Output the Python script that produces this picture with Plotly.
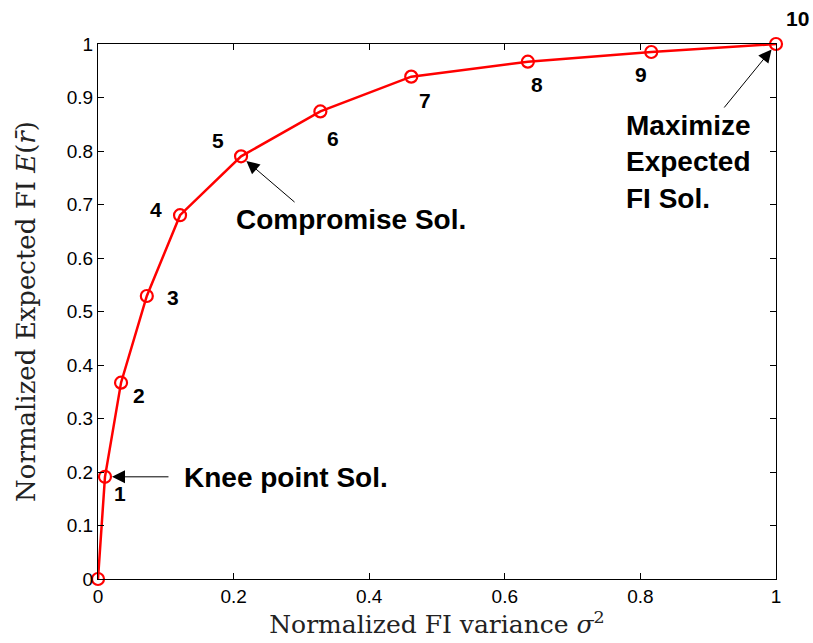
import plotly.graph_objects as go

# Data
sigma2 = [0.0, 0.0103, 0.034, 0.072, 0.121, 0.211, 0.328, 0.462, 0.634, 0.816, 1.0]
exp_fi = [0.0, 0.191, 0.367, 0.529, 0.680, 0.790, 0.874, 0.939, 0.967, 0.985, 1.0]
point_labels = ["", "1", "2", "3", "4", "5", "6", "7", "8", "9", "10"]
x_ticks = [0, 0.2, 0.4, 0.6, 0.8, 1]
y_ticks = [0, 0.1, 0.2, 0.3, 0.4, 0.5, 0.6, 0.7, 0.8, 0.9, 1]

# label pixel offsets (style)
label_offsets = [(0, 0), (15, -17), (18, -13), (26, -2), (-24, 6), (-23, 16),
                 (13, -27), (14, -24), (9, -23), (-10, -22), (21, 26)]

fig = go.Figure()
fig.add_trace(go.Scatter(
    x=sigma2, y=exp_fi, mode="lines+markers",
    line=dict(color="#ff0000", width=2.5),
    marker=dict(symbol="circle-open", size=12, color="#ff0000", line=dict(width=2.2)),
    cliponaxis=False, showlegend=False,
))

lab_font = dict(family="Liberation Sans, Arial, sans-serif", size=21, color="black")
annotations = []
for i, lab in enumerate(point_labels):
    if not lab:
        continue
    dx, dy = label_offsets[i]
    annotations.append(dict(x=sigma2[i], y=exp_fi[i], text="<b>%s</b>" % lab, showarrow=False,
                            xshift=dx, yshift=dy, font=lab_font))

big_font = dict(family="Liberation Sans, Arial, sans-serif", size=28, color="black")
arrow_style = dict(showarrow=True, arrowhead=2, arrowsize=2.6, arrowwidth=1,
                   arrowcolor="black", standoff=7, text="")
# Knee point
annotations.append(dict(x=sigma2[1], y=exp_fi[1], ax=65, ay=0, **arrow_style))
annotations.append(dict(x=0.124, y=0.190, text="<b>Knee point Sol.</b>", showarrow=False,
                        xanchor="left", font=big_font))
# Compromise
annotations.append(dict(x=sigma2[5], y=exp_fi[5], ax=55, ay=47, **arrow_style))
annotations.append(dict(x=0.373, y=0.672, text="<b>Compromise Sol.</b>", showarrow=False,
                        font=big_font))
# Maximize
annotations.append(dict(x=sigma2[10], y=exp_fi[10], ax=-53, ay=65, **arrow_style))
annotations.append(dict(x=0.776, y=0.780, text="<b>Maximize<br>Expected<br>FI Sol.</b>",
                        showarrow=False, xanchor="left", align="left", font=big_font))

axis_common = dict(
    range=[0, 1], showline=True, linecolor="black", linewidth=1, mirror="ticks",
    ticks="inside", ticklen=6, tickcolor="black", tickwidth=1, showgrid=False,
    zeroline=False, automargin=False,
    tickfont=dict(family="Liberation Sans, Arial, sans-serif", size=19, color="black"),
)

fig.update_xaxes(**axis_common, tickvals=x_ticks, ticktext=[("%g" % v) for v in x_ticks],
                 title=dict(text="Normalized FI variance <i>σ</i><sup>2</sup>",
                            font=dict(family="DejaVu Serif, Liberation Serif, serif", size=25, color="#222"),
                            standoff=4))
fig.update_yaxes(**axis_common, tickvals=y_ticks, ticktext=[("%g" % v) for v in y_ticks],
                 title=dict(text="Normalized Expected FI <i>E</i>(<i>r̄</i>)",
                            font=dict(family="DejaVu Serif, Liberation Serif, serif", size=26, color="#222"),
                            standoff=23))

fig.update_layout(
    width=813, height=643,
    margin=dict(l=98, r=37, t=44, b=64),
    paper_bgcolor="white", plot_bgcolor="white",
    annotations=annotations,
)

fig.write_html("out.html", config={"displayModeBar": False},
               post_script="document.body.style.margin='0px';document.body.style.overflow='hidden';")
